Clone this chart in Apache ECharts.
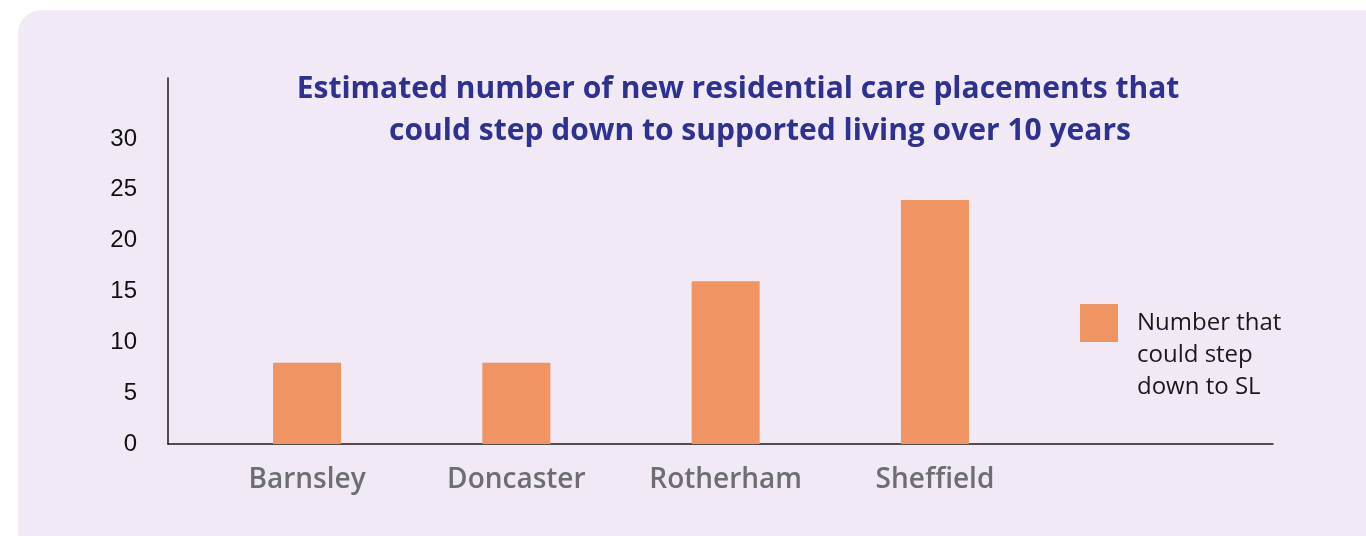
<!DOCTYPE html>
<html>
<head>
<meta charset="utf-8">
<style>
  html, body { margin: 0; padding: 0; background: #ffffff; }
  #panel {
    position: absolute; left: 18px; top: 10px; width: 1400px; height: 600px;
    background: #f1e9f5; border-radius: 24px;
  }
  #chart { position: absolute; left: 0; top: 0; width: 1366px; height: 536px; }
</style>
<script src="https://cdn.jsdelivr.net/npm/echarts@6/dist/echarts.min.js"></script>
</head>
<body>
<div id="panel"></div>
<div id="chart"></div>
<script>
// data
const categories = ['Barnsley', 'Doncaster', 'Rotherham', 'Sheffield'];
const stepDownValues = [8, 8, 16, 24];
const yTickLabels = [0, 5, 10, 15, 20, 25, 30];
const seriesName = 'Number that could step down to SL';

const titleColor = '#2e3192';
const barColor = '#ef9462';
const axisColor = '#1a1a1a';

const chart = echarts.init(document.getElementById('chart'), null, { renderer: 'canvas' });

const titleStyle = { color: titleColor, fontFamily: 'Open Sans', fontWeight: 700, fontSize: 30 };

const option = {
  backgroundColor: 'transparent',
  animation: false,
  title: [
    {
      text: 'Estimated number of new residential care placements that',
      left: 733, top: 69, textAlign: 'center',
      textStyle: titleStyle
    },
    {
      text: 'could step down to supported living over 10 years',
      left: 755, top: 111, textAlign: 'center',
      textStyle: titleStyle
    }
  ],
  legend: {
    left: 1080, top: 243, padding: 0,
    itemWidth: 38, itemHeight: 38, itemGap: 0,
    icon: 'rect',
    data: [seriesName],
    // two empty lines on top keep the first text line level with the swatch
    formatter: () => '\n\nNumber that\ncould step\ndown to SL',
    textStyle: {
      fontFamily: 'Open Sans', fontSize: 24, color: '#1a1a1a',
      lineHeight: 32, padding: [0, 0, 0, 14]
    }
  },
  grid: [
    // wide grid: axis lines and y labels
    { left: 168, right: 93, top: 78, bottom: 92 },
    // bar grid
    { left: 202.4, right: 326.4, top: 78, bottom: 92 }
  ],
  xAxis: [
    {
      gridIndex: 0, type: 'value', min: 0, max: 1,
      axisLine: { show: true, onZero: false, lineStyle: { color: axisColor, width: 1.5 } },
      axisTick: { show: false }, axisLabel: { show: false }, splitLine: { show: false }
    },
    {
      gridIndex: 1, type: 'category', data: categories,
      axisLine: { show: false }, axisTick: { show: false },
      axisLabel: {
        margin: 22, color: '#6d6e71', fontFamily: 'Open Sans', fontWeight: 600, fontSize: 28
      }
    }
  ],
  yAxis: [
    {
      gridIndex: 0, type: 'value', min: 0, max: 36,
      axisLine: { show: true, lineStyle: { color: axisColor, width: 1.5 } },
      axisTick: { show: false },
      splitLine: { show: false },
      axisLabel: {
        customValues: yTickLabels, margin: 31,
        color: '#111', fontFamily: 'Liberation Sans', fontSize: 24,
        padding: [0, 0, 6, 0]
      }
    },
    {
      gridIndex: 1, type: 'value', min: 0, max: 36, show: false,
      splitLine: { show: false }
    }
  ],
  series: [
    {
      name: seriesName,
      type: 'bar',
      xAxisIndex: 1, yAxisIndex: 1,
      data: stepDownValues,
      barWidth: 68,
      itemStyle: { color: barColor }
    }
  ]
};

chart.setOption(option);
</script>
</body>
</html>
